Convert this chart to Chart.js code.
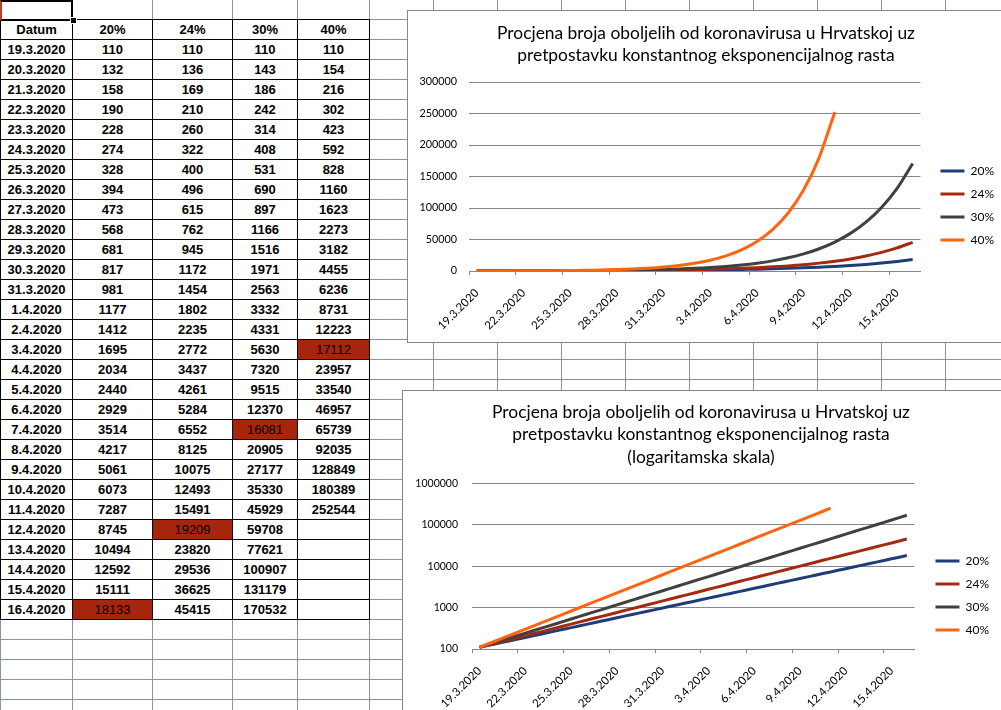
<!DOCTYPE html>
<html>
<head>
<meta charset="utf-8">
<script src="https://cdn.jsdelivr.net/npm/chart.js@4/dist/chart.umd.min.js"></script>
<style>
html, body { margin: 0; padding: 0; width: 1001px; height: 710px; overflow: hidden; background: #fff; }
#sheet {
	position: absolute; left: 0; top: 0; width: 1001px; height: 710px;
	background-image:
		repeating-linear-gradient(to bottom, transparent 0 19px, #8c93a5 19px 20px),
		linear-gradient(to right, #8c93a5 0 1px, transparent 1px 72px, #8c93a5 72px 73px, transparent 73px 152px,
			#8c93a5 152px 153px, transparent 153px 232px, #8c93a5 232px 233px, transparent 233px 297px,
			#8c93a5 297px 298px, transparent 298px);
}
#cols {
	position: absolute; left: 369px; top: 0; width: 632px; height: 710px;
	background-image: repeating-linear-gradient(to right, #8c93a5 0 1px, transparent 1px 64px);
}
.cell {
	position: absolute; box-sizing: border-box; border: 1px solid #000; height: 21px;
	font: bold 13px "Liberation Sans", Arial, sans-serif; color: #000;
	display: flex; align-items: center; justify-content: center; background: #fff;
}
.cell.mark { background: #a5260c; font-weight: normal; color: #000; }
#sel { position: absolute; left: 0; top: 0; width: 73px; height: 21px; box-sizing: border-box;
	border: 2px solid #000; border-left-color: #b8402a; }
#handle { position: absolute; left: 70px; top: 17px; width: 5px; height: 5px; background: #000; border: 1px solid #fff; }
.box { position: absolute; box-sizing: border-box; border: 1px solid #868686; background: #fff; }
canvas { position: absolute; }
</style>
</head>
<body>
<div id="sheet"></div>
<div id="cols"></div>
<div id="table"></div>
<div id="sel"></div>
<div id="handle"></div>
<div class="box" style="left:407px; top:10px; width:620px; height:333px;"></div>
<canvas id="chart1" width="596" height="331" style="left:408px; top:11px;"></canvas>
<div class="box" style="left:402px; top:390px; width:620px; height:340px;"></div>
<canvas id="chart2" width="596" height="330" style="left:403px; top:391px;"></canvas>
<script>
// dates and estimated cases for four daily growth rates
const dates = ['19.3.2020','20.3.2020','21.3.2020','22.3.2020','23.3.2020','24.3.2020','25.3.2020',
	'26.3.2020','27.3.2020','28.3.2020','29.3.2020','30.3.2020','31.3.2020','1.4.2020','2.4.2020',
	'3.4.2020','4.4.2020','5.4.2020','6.4.2020','7.4.2020','8.4.2020','9.4.2020','10.4.2020',
	'11.4.2020','12.4.2020','13.4.2020','14.4.2020','15.4.2020','16.4.2020']
const rate20 = [110,132,158,190,228,274,328,394,473,568,681,817,981,1177,1412,1695,2034,2440,2929,
	3514,4217,5061,6073,7287,8745,10494,12592,15111,18133]
const rate24 = [110,136,169,210,260,322,400,496,615,762,945,1172,1454,1802,2235,2772,3437,4261,5284,
	6552,8125,10075,12493,15491,19209,23820,29536,36625,45415]
const rate30 = [110,143,186,242,314,408,531,690,897,1166,1516,1971,2563,3332,4331,5630,7320,9515,
	12370,16081,20905,27177,35330,45929,59708,77621,100907,131179,170532]
const rate40 = [110,154,216,302,423,592,828,1160,1623,2273,3182,4455,6236,8731,12223,17112,23957,
	33540,46957,65739,92035,128849,180389,252544]
const seriesNames = ['20%', '24%', '30%', '40%']
const markedDates = ['16.4.2020', '12.4.2020', '7.4.2020', '3.4.2020']  // shaded cell per column
const linearTicks = [0, 50000, 100000, 150000, 200000, 250000, 300000]
const logTicks = [100, 1000, 10000, 100000, 1000000]

const series = [rate20, rate24, rate30, rate40]
const colors = ['#1f3c78', '#a5290e', '#404040', '#ff6410']
const title = ['Procjena broja oboljelih od koronavirusa u Hrvatskoj uz',
	'pretpostavku konstantnog eksponencijalnog rasta']

// spreadsheet table
const colX = [0, 72, 152, 232, 297, 369]
const table = document.getElementById('table')
function addCell(r, c, text, mark) {
	const d = document.createElement('div')
	d.className = 'cell' + (mark ? ' mark' : '')
	d.style.left = colX[c] + 'px'
	d.style.top = (19 + 20*r) + 'px'
	d.style.width = (colX[c+1] - colX[c] + 1) + 'px'
	d.textContent = text
	table.appendChild(d)
}
addCell(0, 0, 'Datum')
seriesNames.forEach((n, i) => addCell(0, i+1, n))
dates.forEach((d, r) => {
	addCell(r+1, 0, d)
	series.forEach((s, i) => addCell(r+1, i+1, s[r] === undefined ? '' : s[r], markedDates[i] === d))
})

Chart.defaults.font.family = 'Lato, "Liberation Sans", sans-serif'
Chart.defaults.color = '#000'
Chart.defaults.animation = false

const gridGray = '#868686'

function makeDatasets() {
	return series.map((s, i) => ({
		label: seriesNames[i], data: s, yAxisID: 'y',
		borderColor: colors[i], backgroundColor: colors[i],
		borderWidth: 3, pointRadius: 0, tension: 0.2,
		borderJoinStyle: 'round', order: 3 - i,
	}))
}

function makeOptions(o) {
	return {
		responsive: false,
		layout: { padding: { left: 0, right: 0, top: 0, bottom: 0 } },
		plugins: {
			tooltip: { enabled: false },
			title: {
				display: true, text: o.title, color: '#000',
				font: { size: 17.4, weight: 'normal', lineHeight: o.titleLine },
				padding: { top: o.titleTop, bottom: o.titleBottom },
			},
			legend: {
				position: 'right', reverse: true,
				title: { display: true, text: ' ', font: { size: 10, lineHeight: 1 }, padding: { top: o.legendShift, bottom: 0 } },
				labels: { usePointStyle: true, pointStyle: 'line', pointStyleWidth: 24, padding: 11,
					font: { size: 12 }, color: '#000' },
			},
		},
		scales: {
			x: {
				offset: true,
				grid: { offset: true, drawOnChartArea: false, tickLength: 4,
					color: c => c.index % 3 === 0 ? gridGray : 'rgba(0,0,0,0)' },
				border: { color: gridGray },
				ticks: { autoSkip: false, maxRotation: 45, minRotation: 45, padding: 11, font: { size: 11.5 },
					callback: (v, i) => i % 3 === 0 ? dates[i] : '' },
				afterFit: s => { s.height = o.xHeight },
			},
			y: o.y,
			y2: {
				type: 'linear', position: 'right', display: true,
				grid: { display: false, drawTicks: false }, border: { display: false }, ticks: { display: false },
				afterFit: s => { s.width = o.spacer },
			},
		},
	}
}

new Chart(document.getElementById('chart1'), {
	type: 'line',
	data: { labels: dates, datasets: makeDatasets() },
	options: makeOptions({
		title: title, titleLine: 22/17.4, titleTop: 11, titleBottom: 16,
		legendShift: 48, xHeight: 71, spacer: 9,
		y: {
			min: 0, max: 300000,
			afterBuildTicks: s => { s.ticks = linearTicks.map(v => ({ value: v })) },
			grid: { color: gridGray, drawTicks: false },
			border: { display: false },
			ticks: { padding: 12, font: { size: 10.8 }, callback: v => String(v) },
			afterFit: s => { s.width = 61 },
		},
	}),
})

new Chart(document.getElementById('chart2'), {
	type: 'line',
	data: { labels: dates, datasets: makeDatasets() },
	options: makeOptions({
		title: title.concat(['(logaritamska skala)']), titleLine: 22.5/17.4, titleTop: 10, titleBottom: 15,
		legendShift: 69, xHeight: 72, spacer: 10,
		y: {
			type: 'logarithmic', min: 100, max: 1000000,
			afterBuildTicks: s => { s.ticks = logTicks.map(v => ({ value: v })) },
			grid: { color: gridGray, drawTicks: false },
			border: { display: false },
			ticks: { padding: 14, font: { size: 10.5 }, callback: v => String(v) },
			afterFit: s => { s.width = 69 },
		},
	}),
})
</script>
</body>
</html>
